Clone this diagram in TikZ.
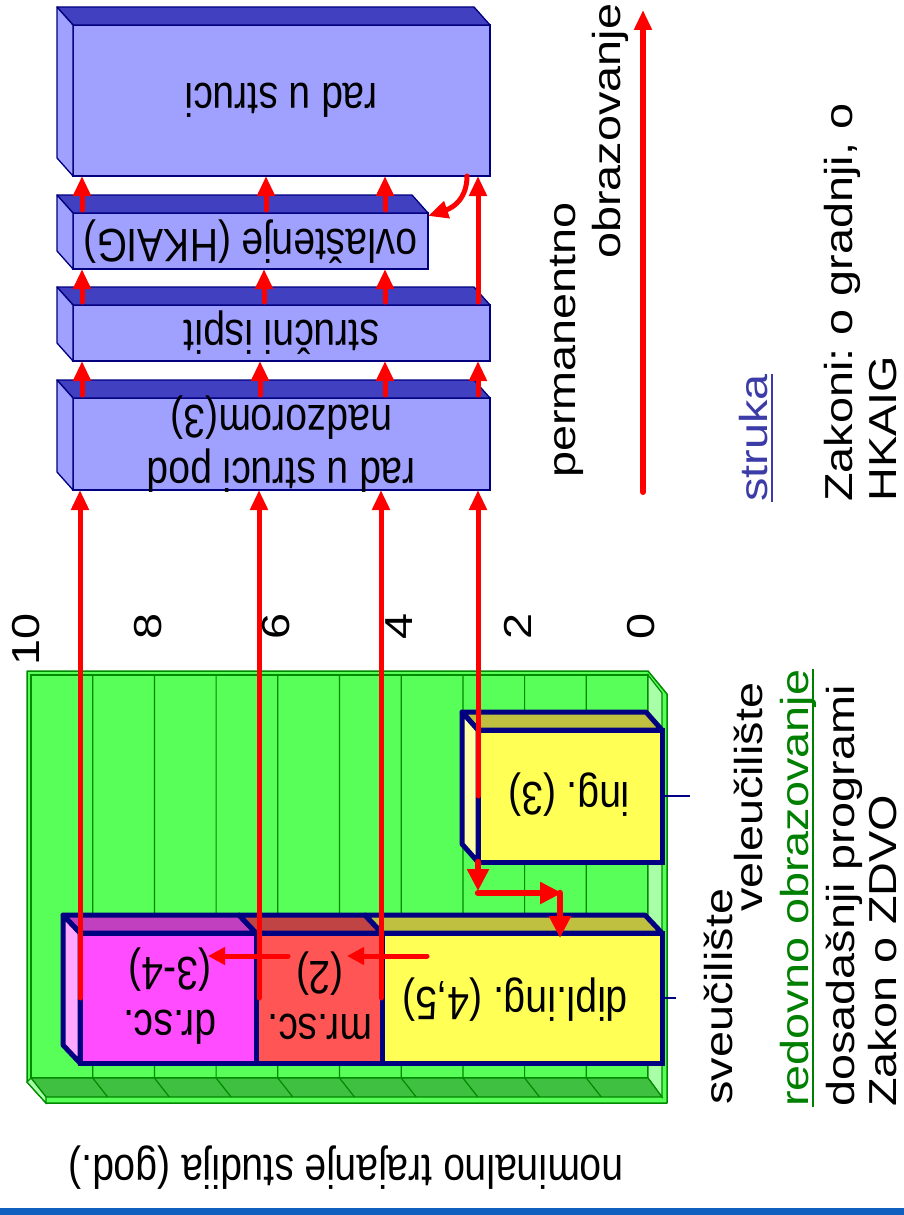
\documentclass[tikz,border=0pt]{standalone}
\usepackage{fontspec}
\setmainfont{Liberation Sans}
\usetikzlibrary{arrows.meta,calc}
\frenchspacing
\definecolor{navy}{RGB}{0,0,128}
\definecolor{ufront}{HTML}{A0A0FF}
\definecolor{utop}{HTML}{4040C0}
\definecolor{bgreen}{HTML}{58FF58}
\definecolor{mgreen}{HTML}{40C040}
\definecolor{lgreen}{HTML}{A8FFA8}
\definecolor{dgreen}{HTML}{008A00}
\definecolor{ymain}{HTML}{FFFF55}
\definecolor{ytop}{HTML}{C0C040}
\definecolor{yside}{HTML}{FFFFA8}
\definecolor{mmain}{HTML}{FF4CFF}
\definecolor{mtop}{HTML}{C040C0}
\definecolor{mside}{HTML}{FFA8FF}
\definecolor{rmain}{HTML}{FF5555}
\definecolor{rtop}{HTML}{C04444}
\definecolor{tgreen}{HTML}{008000}
\definecolor{tblue}{HTML}{3C3CA8}
\definecolor{barblue}{HTML}{1060C0}
\begin{document}
\begin{tikzpicture}[x=1pt,y=-1pt,
  arr/.style={red, line width=5pt, line cap=round, -{Triangle[length=20pt,width=17pt]}},
  arrb/.style={red, line width=6.5pt, line cap=round, -{Triangle[length=22pt,width=21pt]}},
  ubox/.style={draw=navy, line width=1.3pt, fill=ufront, inner sep=0pt, outer sep=0pt, anchor=north west},
  uface/.style={draw=navy, line width=1.3pt, line join=round},
  bbox/.style={draw=navy, line width=5pt, inner sep=0pt, outer sep=0pt, anchor=north west},
  bface/.style={draw=navy, line width=5pt, line join=round},
  txt/.style={font=\fontsize{39}{44}\selectfont, inner sep=0pt, align=center, yscale=1.2, rotate=180},
  vtxt/.style={font=\fontsize{39}{44}\selectfont, inner sep=0pt, yscale=1.2, rotate=90, anchor=base west},
  ticklbl/.style={font=\fontsize{39}{44}\selectfont, inner sep=0pt, yscale=1.2, rotate=90, anchor=east},
  gline/.style={draw=dgreen, line width=1.2pt}
]
\useasboundingbox (0,0) rectangle (904,1215);
\fill[barblue] (0,1208) rectangle (904,1215);

% chart board
\filldraw[fill=bgreen, draw=dgreen, line width=1.5pt, line join=round] (27,671) -- (648,671) -- (667,694) -- (667,1103) -- (46,1103) -- (27,1082) -- cycle;
\filldraw[fill=bgreen, gline] (31,675) rectangle (648,1078);
\filldraw[fill=lgreen, gline] (648,675) -- (662,693) -- (662,1097) -- (648,1078) -- cycle;
\filldraw[fill=mgreen, gline] (31,1078) -- (648,1078) -- (662,1097) -- (46,1097) -- cycle;
\filldraw[fill=lgreen, gline] (27,1082) -- (31,1078) -- (46,1097) -- (46,1103) -- cycle;
\foreach \k in {1,...,9} {
  \pgfmathsetmacro\gx{31+61.7*\k}
  \draw[gline] (\gx,675) -- (\gx,1078) -- (\gx+15,1097);
}

% bars
\node[bbox, fill=ymain, minimum width=280pt, minimum height=130pt] (dipl) at (382,933) {};
\node[bbox, fill=rmain, minimum width=126pt, minimum height=130pt] (mrsc) at (256,933) {};
\node[bbox, fill=mmain, minimum width=176pt, minimum height=130pt] (drsc) at (80,933) {};
\filldraw[bface, fill=mtop] (drsc.north west) -- ++(-17,-18) -- ([shift={(-17,-18)}]drsc.north east) -- (drsc.north east) -- cycle;
\filldraw[bface, fill=rtop] (mrsc.north west) -- ++(-17,-18) -- ([shift={(-17,-18)}]mrsc.north east) -- (mrsc.north east) -- cycle;
\filldraw[bface, fill=ytop] (dipl.north west) -- ++(-17,-18) -- ([shift={(-17,-18)}]dipl.north east) -- (dipl.north east) -- cycle;
\filldraw[bface, fill=mside] (drsc.north west) -- ++(-17,-18) -- ([shift={(-17,-18)}]drsc.south west) -- (drsc.south west) -- cycle;

\node[bbox, fill=ymain, minimum width=184pt, minimum height=132pt] (ing) at (478,730) {};
\filldraw[bface, fill=ytop] (ing.north west) -- ++(-16,-18) -- ([shift={(-16,-18)}]ing.north east) -- (ing.north east) -- cycle;
\filldraw[bface, fill=yside] (ing.north west) -- ++(-16,-18) -- ([shift={(-16,-18)}]ing.south west) -- (ing.south west) -- cycle;

\draw[navy, line width=2pt] (ing.east) -- ++(28,0);
\draw[navy, line width=2pt] (dipl.east) -- ++(14,0);

\node[txt] at (170,996) {dr.sc.\\(3-4)};
\node[txt] at (320,996) {mr.sc.\\(2)};
\node[txt] at (515,1000) {dipl.ing. (4,5)};
\node[txt] at (569,795) {ing. (3)};

% upper boxes
\node[ubox, minimum width=417pt, minimum height=151pt] (struci) at (73,25) {};
\node[ubox, minimum width=355pt, minimum height=56pt] (ovl) at (73,213) {};
\node[ubox, minimum width=417pt, minimum height=56pt] (ispit) at (73,305) {};
\node[ubox, minimum width=417pt, minimum height=92pt] (nadzor) at (73,398) {};
\foreach \b in {struci,ovl,ispit,nadzor} {
  \filldraw[uface, fill=utop] (\b.north west) -- ++(-16,-18) -- ([shift={(-16,-18)}]\b.north east) -- (\b.north east) -- cycle;
  \filldraw[uface, fill=ufront] (\b.north west) -- ++(-16,-18) -- ([shift={(-16,-18)}]\b.south west) -- (\b.south west) -- cycle;
}
\node[txt] at (struci) {rad u struci};
\node[txt] at (250.5,242) {ovlaštenje (HKAIG)};
\node[txt] at (ispit) {stručni ispit};
\node[txt] at (nadzor) {rad u struci pod\\nadzorom(3)};

% long red arrows
\coordinate (m0) at ([xshift=3pt]mrsc.west);
\coordinate (d0) at ([xshift=-1pt]dipl.west);
\draw[arr] (drsc.west) -- (drsc.west |- nadzor.south);
\draw[arr] (m0) -- (m0 |- nadzor.south);
\draw[arr] (d0) -- (d0 |- nadzor.south);
\draw[arr] (ing.west) -- (ing.west |- nadzor.south);

% short red arrows
\foreach \x in {82,260,385,478}
  \draw[arr] ([xshift=\x pt-73pt, yshift=3pt]nadzor.north west) -- ([xshift=\x pt-73pt]ispit.south west);
\foreach \x in {82,264,385}
  \draw[arr] ([xshift=\x pt-73pt, yshift=3pt]ispit.north west) -- ([xshift=\x pt-73pt]ovl.south west);
\draw[arr] ([xshift=405pt, yshift=3pt]ispit.north west) -- ([xshift=405pt]struci.south west);
\foreach \x in {82,266,385}
  \draw[arr] ([xshift=\x pt-73pt, yshift=3pt]ovl.north west) -- ([xshift=\x pt-73pt]struci.south west);
\draw[arr] ([xshift=-23pt]struci.south east) .. controls +(0,28) and +(18,-6) .. ([yshift=-3pt]ovl.north east);

% arrows inside the stacked bar
\coordinate (h1) at (427,956);
\coordinate (h2) at (347,956);
\coordinate (h3) at (288,956);
\coordinate (h4) at (208,956);
\draw[arr, -{Triangle[length=17pt,width=17pt]}] (h1) -- (h2);
\draw[arr, -{Triangle[length=17pt,width=17pt]}] (h3) -- (h4);

% arrows from ing. to dipl.ing.
\coordinate (i0) at (ing.south west);
\coordinate (i1) at ([yshift=-31pt]ing.south west);
\coordinate (i2) at ([shift={(84,31)}]ing.south west);
\coordinate (i3) at ([shift={(82,31)}]ing.south west);
\coordinate (i4) at ([yshift=-5pt]i3 |- dipl.north);
\draw[arrb] (i0) -- ([yshift=-29pt]i0);
\draw[arrb] (i1) -- (i2);
\draw[arrb] (i3) -- (i4);

% permanent education arrow
\coordinate (pa) at (643,492);
\coordinate (pb) at (643,10);
\draw[arr, line width=6pt] (pa) -- (pb);

% axis labels
\node[txt] at (346,1168) {nominalno trajanje studija (god.)};
\foreach \v/\x in {10/26,8/148,6/276,4/399,2/518,0/641}
  \node[ticklbl] at (\x,613) {\v};

% side texts
\node[vtxt] (sv) at (732,1105) {sveučilište};
\node[vtxt] (ve) at (762,912) {veleučilište};
\node[vtxt, text=tgreen] (ro) at (808,1107) {redovno obrazovanje};
\draw[tgreen, line width=2.5pt] ([xshift=5pt]ro.base west) -- ([xshift=5pt]ro.base east);
\node[vtxt] (dp) at (854,1107) {dosadašnji programi};
\node[vtxt] (zz) at (896,1107) {Zakon o ZDVO};
\node[vtxt] (pe) at (575,478) {permanentno};
\node[vtxt] (ob) at (620,259) {obrazovanje};
\node[vtxt, text=tblue] (st) at (767,502) {struka};
\draw[tblue, line width=2.5pt] ([xshift=5pt]st.base west) -- ([xshift=5pt]st.base east);
\node[vtxt] (zk) at (852,502) {Zakoni: o gradnji, o};
\node[vtxt] (hk) at (896,502) {HKAIG};
\end{tikzpicture}
\end{document}
